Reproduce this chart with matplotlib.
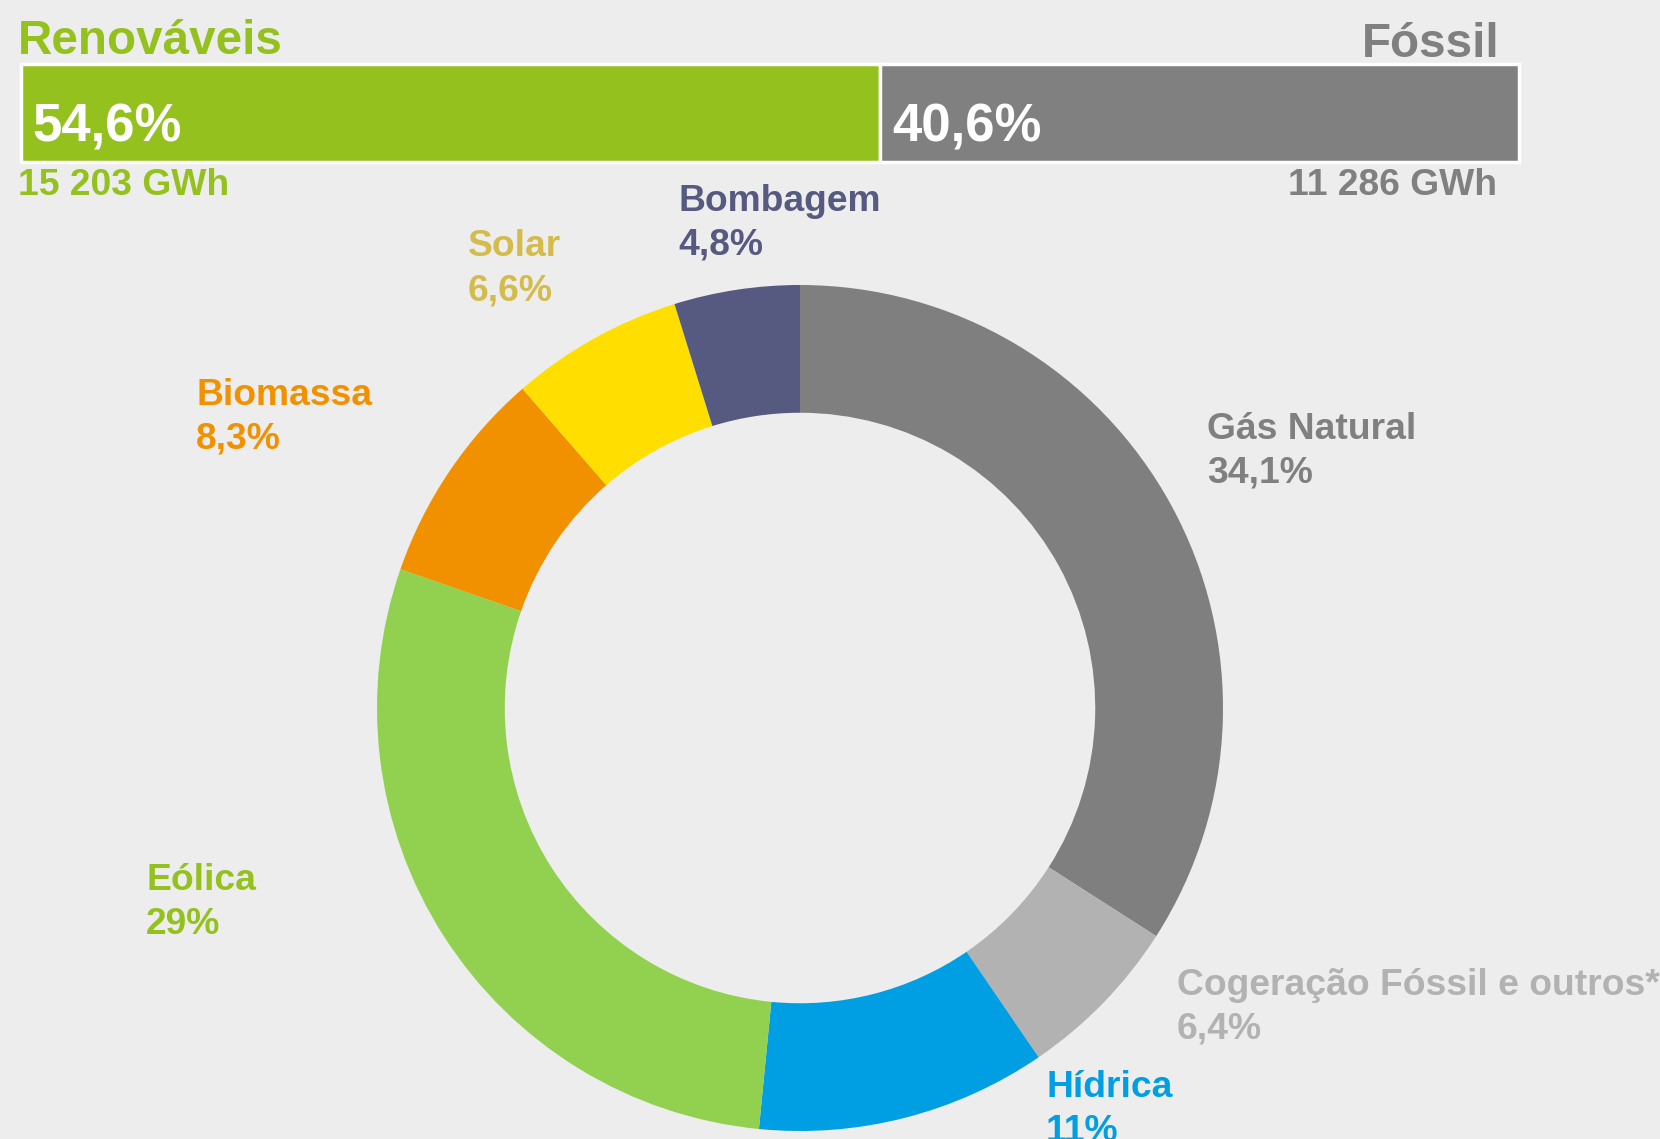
import matplotlib.pyplot as plt

# dados
fontes = ["Gás Natural", "Cogeração Fóssil e outros*", "Hídrica", "Eólica",
          "Biomassa", "Solar", "Bombagem"]
quotas = [34.1, 6.4, 11.1, 28.8, 8.3, 6.6, 4.8]
quotas_txt = ["34,1%", "6,4%", "11%", "29%", "8,3%", "6,6%", "4,8%"]

grupos = ["Renováveis", "Fóssil"]
grupos_pct = [54.6, 40.6]
grupos_pct_txt = ["54,6%", "40,6%"]
grupos_gwh = ["15 203 GWh", "11 286 GWh"]

# estilo
cores_fatia = ["#7f7f7f", "#b2b2b2", "#009fe3", "#92d050", "#f29100", "#ffde00", "#575a80"]
cores_texto = ["#808080", "#b2b2b2", "#009fe3", "#95c11f", "#f29100", "#d3bc4b", "#575a80"]
cores_grupo = ["#95c11f", "#808080"]
# posicao (x, baseline da 1a linha) de cada etiqueta, em pixeis
pos_etiq = [(1207, 439), (1177, 995), (1046, 1097), (146, 890),
            (196, 405), (468, 256), (678, 211)]
gap_linha = 44

W, H = 1660, 1139
fundo = "#ededed"
fam = ["Liberation Sans", "DejaVu Sans"]


def fy(y):
    return H - y


fig = plt.figure(figsize=(W / 100, H / 100), dpi=100, facecolor=fundo)
ax = fig.add_axes([0, 0, 1, 1])
ax.set_facecolor(fundo)

# donut
R = 423
ax.pie(quotas, colors=cores_fatia, center=(800, fy(708)), radius=R,
       startangle=90, counterclock=False,
       wedgeprops=dict(width=R * 0.302, edgecolor="none", linewidth=0))

for i in range(len(fontes)):
    x, y = pos_etiq[i]
    ax.text(x, fy(y), fontes[i], color=cores_texto[i], fontsize=26.8,
            fontweight="bold", family=fam, va="baseline", ha="left")
    ax.text(x, fy(y + gap_linha), quotas_txt[i], color=cores_texto[i], fontsize=26.8,
            fontweight="bold", family=fam, va="baseline", ha="left")

# barra renovaveis / fossil
bx0, bx1 = 20.5, 1519
escala = (bx1 - bx0) / sum(grupos_pct)
lefts = [bx0, bx0 + grupos_pct[0] * escala]
ax.barh([fy(113)] * 2, [p * escala for p in grupos_pct], left=lefts, height=98,
        color=cores_grupo, edgecolor="white", linewidth=2.5)

for i in range(2):
    ax.text(lefts[i] + 12, fy(142), grupos_pct_txt[i], color="white", fontsize=38,
            fontweight="bold", family=fam, va="baseline", ha="left")

ax.text(18, fy(54), grupos[0], color=cores_grupo[0], fontsize=34.3,
        fontweight="bold", family=fam, va="baseline", ha="left")
ax.text(1499, fy(57), grupos[1], color=cores_grupo[1], fontsize=34.3,
        fontweight="bold", family=fam, va="baseline", ha="right")
ax.text(18, fy(195), grupos_gwh[0], color=cores_grupo[0], fontsize=26.8,
        fontweight="bold", family=fam, va="baseline", ha="left")
ax.text(1497, fy(195), grupos_gwh[1], color=cores_grupo[1], fontsize=26.8,
        fontweight="bold", family=fam, va="baseline", ha="right")

ax.set_xlim(0, W)
ax.set_ylim(0, H)
ax.set_aspect("auto")
ax.axis("off")

fig.savefig("out.png", dpi=100, facecolor=fundo)
